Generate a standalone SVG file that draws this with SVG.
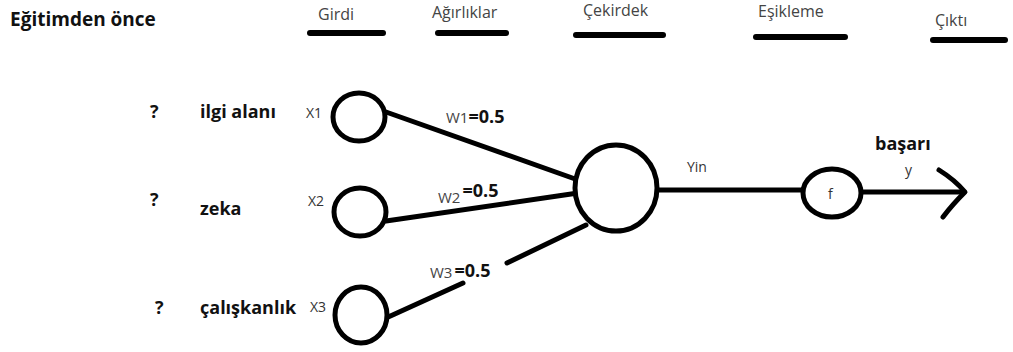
<svg xmlns="http://www.w3.org/2000/svg" width="1013" height="352" viewBox="0 0 1013 352">
<style>
.hdr{font-family:"Open Sans","Liberation Sans",sans-serif;font-size:16px;fill:#444}
.bar{stroke:#000;stroke-width:6;stroke-linecap:round}
.lbl{font-family:"Open Sans","Liberation Sans",sans-serif;font-size:18px;font-weight:bold;fill:#111}
.xl{font-family:"Open Sans","Liberation Sans",sans-serif;font-size:14px;fill:#333}
.wl{font-family:"Open Sans","Liberation Sans",sans-serif;font-size:15px;fill:#444}
.wv{font-family:"Open Sans","Liberation Sans",sans-serif;font-size:18px;font-weight:bold;fill:#111}
.node{fill:#fff;stroke:#000;stroke-width:5}
.edge{stroke:#000;stroke-width:5;fill:none;stroke-linecap:round;stroke-linejoin:round}
</style>
<rect width="1013" height="352" fill="#fff"/>
<g id="title">
<text x="10" y="26" font-family="Open Sans,Liberation Sans,sans-serif" font-size="19" font-weight="bold" fill="#111">Eğitimden önce</text>
</g>
<g id="headers">
<text class="hdr" x="318" y="20">Girdi</text>
<line class="bar" x1="310" y1="33" x2="383" y2="33"/>
<text class="hdr" x="432" y="18">Ağırlıklar</text>
<line class="bar" x1="438" y1="33" x2="506" y2="33"/>
<text class="hdr" x="583" y="16">Çekirdek</text>
<line class="bar" x1="576" y1="35" x2="663" y2="35"/>
<text class="hdr" x="758" y="17">Eşikleme</text>
<line class="bar" x1="756" y1="37" x2="845" y2="37"/>
<text class="hdr" x="935" y="26">Çıktı</text>
<line class="bar" x1="933" y1="40" x2="1005" y2="40"/>
</g>
<g id="connectors">
<line class="edge" x1="386" y1="112" x2="578" y2="180"/>
<line class="edge" x1="386" y1="221" x2="578" y2="193"/>
<path class="edge" d="M386 318 L463 283 M507 263 L586 225"/>
<line class="edge" x1="657" y1="190" x2="802" y2="190"/>
<line class="edge" x1="862" y1="192" x2="964" y2="192"/>
<path class="edge" d="M939 170 Q955 180 965 192 Q952 205 943 217"/>
</g>
<g id="labels">
<text class="lbl" x="150" y="118">?</text>
<text class="lbl" x="200" y="118">ilgi alanı</text>
<text class="lbl" x="150" y="206">?</text>
<text class="lbl" x="200" y="215">zeka</text>
<text class="lbl" x="155" y="314">?</text>
<text class="lbl" x="200" y="314">çalışkanlık</text>
</g>
<g id="x1"><text class="xl" x="306" y="118">X1</text><ellipse class="node" cx="359" cy="117" rx="26" ry="24"/></g>
<g id="x2"><text class="xl" x="308" y="206">X2</text><ellipse class="node" cx="360" cy="212" rx="26" ry="24"/></g>
<g id="x3"><text class="xl" x="310" y="312">X3</text><ellipse class="node" cx="361" cy="315" rx="26" ry="28"/></g>
<g id="w1"><text x="446" y="123"><tspan class="wl">W1</tspan><tspan class="wv">=0.5</tspan></text></g>
<g id="w2"><text x="438" y="203"><tspan class="wl">W2</tspan><tspan class="wv" dx="2" dy="-6">=0.5</tspan></text></g>
<g id="w3"><text x="430" y="278"><tspan class="wl">W3</tspan><tspan class="wv" dx="2" dy="-1">=0.5</tspan></text></g>
<g id="core"><ellipse class="node" cx="616" cy="188" rx="41" ry="43"/></g>
<g id="yin"><text class="xl" x="687" y="172" font-size="15">Yin</text></g>
<g id="f"><ellipse class="node" cx="832" cy="193" rx="29" ry="24"/><text class="xl" x="828" y="199">f</text></g>
<g id="out"><text class="lbl" x="875" y="150" font-size="17">başarı</text><text class="xl" x="905" y="175">y</text></g>
</svg>
